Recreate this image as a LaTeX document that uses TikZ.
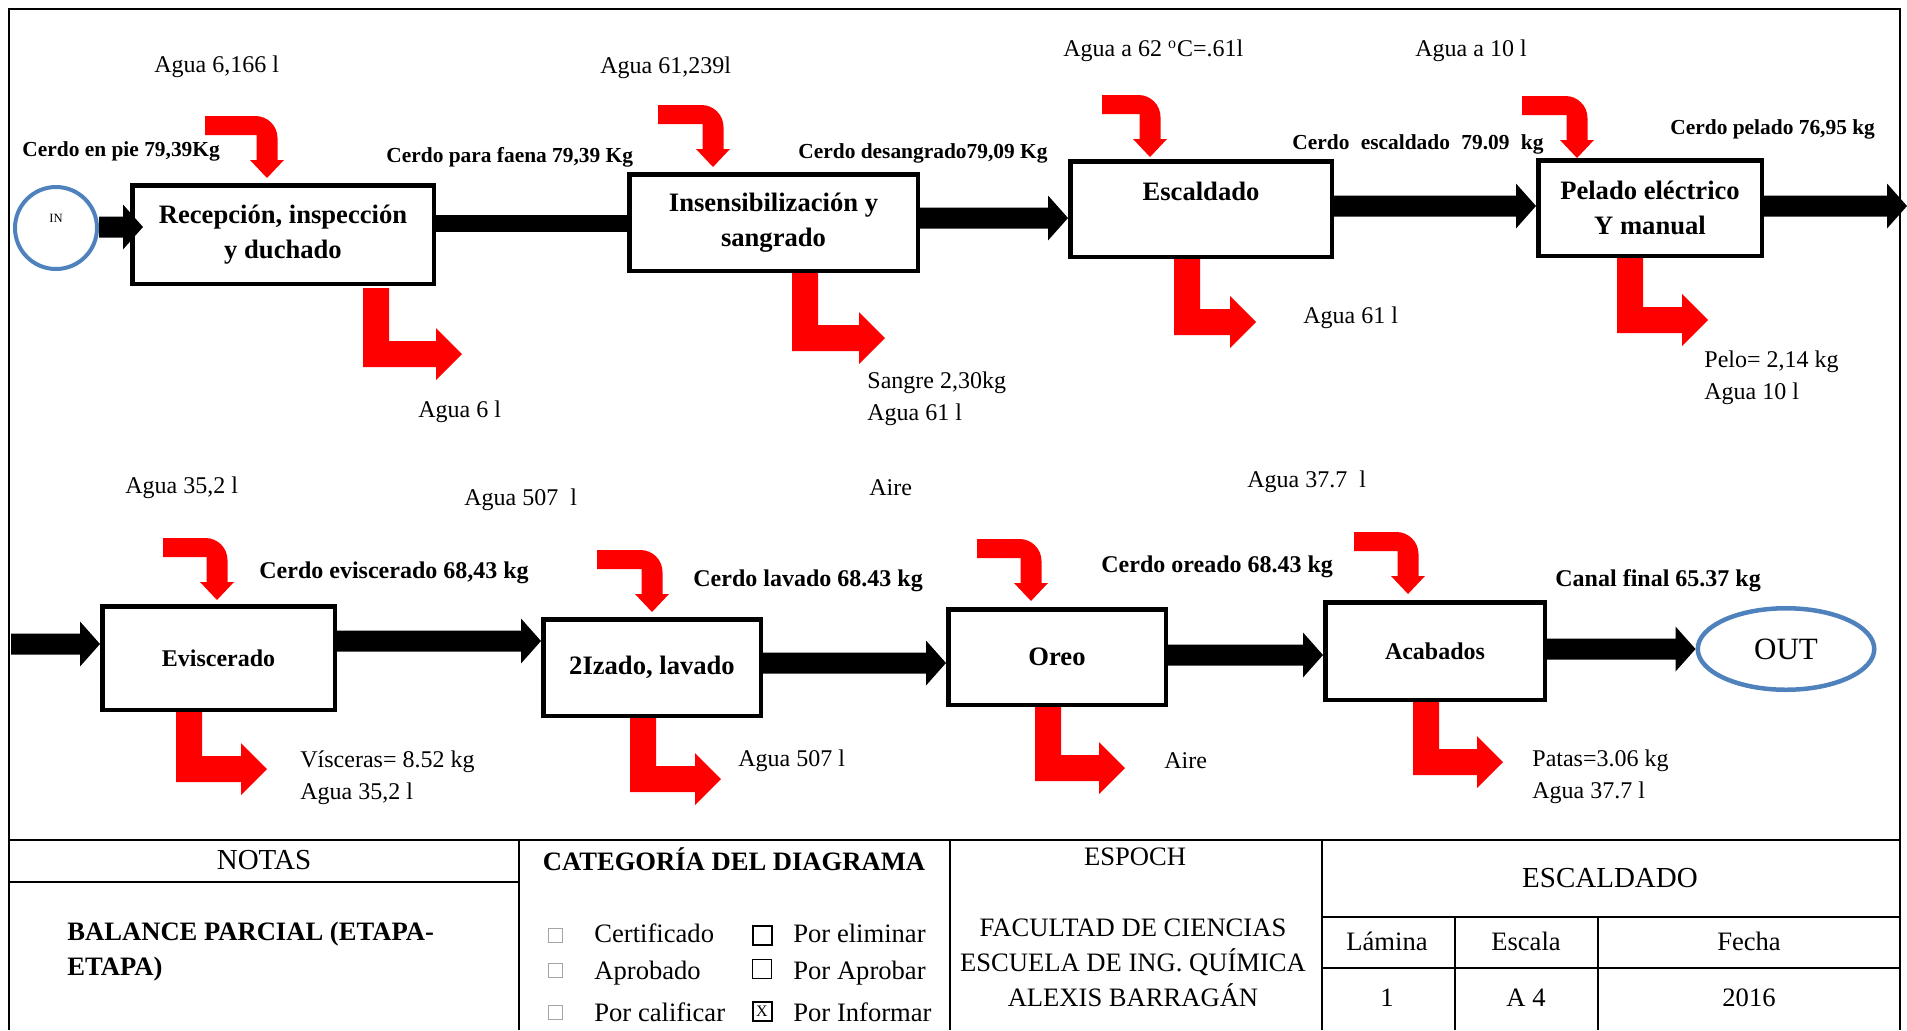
\documentclass[tikz,border=0pt]{standalone}
\usepackage{fontspec}
\setmainfont{Liberation Serif}
\usetikzlibrary{calc,shapes.geometric}
\pgfdeclarelayer{back}
\pgfsetlayers{back,main}
\definecolor{flowred}{RGB}{255,0,0}
\definecolor{ringblue}{RGB}{79,129,189}
\definecolor{tickgray}{RGB}{165,165,165}

% fat black flow arrow: shaft from #1 to the tip #2 (both on one level)
\newcommand\blockarrow[2]{%
  \fill ($(#1)+(0,-10.5)$) -- ($(#2)+(-20,-10.5)$) -- ($(#2)+(-20,-22.5)$)
    -- (#2) -- ($(#2)+(-20,22.5)$) -- ($(#2)+(-20,10.5)$)
    -- ($(#1)+(0,10.5)$) -- cycle;}

\begin{document}
\begin{tikzpicture}[x=0.5pt, y=-0.5pt,
  proc/.style={draw, line width=2.25pt, fill=white, align=center, inner sep=0pt,
    font=\bfseries\fontsize{13.3}{17.5}\selectfont},
  lbl/.style={anchor=west, inner sep=0pt, align=left, font=\fontsize{12}{16}\selectfont},
  slbl/.style={anchor=west, inner sep=0pt, font=\bfseries\fontsize{10.7}{13}\selectfont},
  blbl/.style={anchor=west, inner sep=0pt, font=\bfseries\fontsize{12}{14}\selectfont},
  cell/.style={inner sep=0pt, align=center, font=\fontsize{13.3}{17.5}\selectfont},
  opt/.style={anchor=west, inner sep=0pt, font=\fontsize{13.3}{16}\selectfont},
  rule/.style={line width=1.3pt},
  tickoff/.style={draw=tickgray, line width=0.5pt, minimum size=7pt, inner sep=0pt},
  tickon/.style={draw, line width=1pt, minimum size=9.5pt, inner sep=0pt,
    font=\fontsize{8}{8}\selectfont},
  pics/feed/.style={code={
    \fill[flowred] (0,0) -- (-17,-18) -- (-10.5,-18) -- (-10.5,-43) -- (#1,-43)
      -- (#1,-62) -- (-11.5,-62) .. controls (0.6,-62) and (10.5,-52.1) .. (10.5,-40)
      -- (10.5,-18) -- (17,-18) -- cycle;}},
  pics/drain/.style={code={
    \fill[flowred] (#1,-66) -- ({#1+26},-66) -- ({#1+26},-13) -- (-26,-13)
      -- (-26,-26) -- (0,0) -- (-26,26) -- (-26,13) -- (#1,13) -- cycle;}}
]
\useasboundingbox (0,0) rectangle (1907,1030);

% sheet frame and title block
\draw[rule] (9,1030) -- (9,9) -- (1900,9) -- (1900,1030);
\draw[rule] (9,840) -- (1900,840);
\draw[rule] (9,882) -- (519,882);
\draw[rule] (519,840) -- (519,1030);
\draw[rule] (950,840) -- (950,1030);
\draw[rule] (1322,840) -- (1322,1030);
\draw[rule] (1322,917) -- (1900,917);
\draw[rule] (1322,968) -- (1900,968);
\draw[rule] (1455,917) -- (1455,1030);
\draw[rule] (1598,917) -- (1598,1030);

% process steps
\node[proc, minimum width=150.75pt, minimum height=49.25pt] (b1) at (283,234.5) {Recepción, inspección\\y duchado};
\node[proc, minimum width=144.25pt, minimum height=48.25pt] (b2) at (773.5,222.5) {Insensibilización y\\sangrado};
\node[proc, minimum width=130.75pt, minimum height=47.75pt] (b3) at (1201,209) {Escaldado\\\mbox{}};
\node[proc, minimum width=111.75pt, minimum height=47.75pt] (b4) at (1650,208) {Pelado eléctrico\\Y manual};
\node[proc, font=\bfseries\fontsize{12}{16}\selectfont, minimum width=116.25pt, minimum height=51.75pt] (b5) at (218.5,658) {Eviscerado};
\node[proc, minimum width=108.75pt, minimum height=48.25pt] (b6) at (652,667.5) {2Izado, lavado};
\node[proc, minimum width=108.75pt, minimum height=47.75pt] (b7) at (1057,657) {Oreo};
\node[proc, font=\bfseries\fontsize{12}{16}\selectfont, minimum width=109.75pt, minimum height=48.75pt] (b8) at (1435,651) {Acabados};

\node[circle, draw=ringblue, line width=2pt, minimum size=41pt, inner sep=0pt, text depth=10pt,
  font=\fontsize{6.3}{7}\selectfont] (in) at (56,228) {IN};
\node[ellipse, draw=ringblue, line width=2.25pt, minimum width=88.25pt, minimum height=40.75pt,
  inner sep=0pt, font=\fontsize{15.5}{18}\selectfont] (out) at (1786,649) {OUT};

% levels of the main flow
\coordinate (v0) at (0,227);
\coordinate (v1) at (0,223);
\coordinate (v2) at (0,218);
\coordinate (v3) at (0,206);
\coordinate (v5) at (0,641);
\coordinate (v6) at (0,663);
\coordinate (v7) at (0,655);
\coordinate (v8) at (0,649);
\coordinate (entry) at (11,644);
\coordinate (exit) at (1907,206);
\coordinate (t0) at ($(b1.west |- v0)+(13,0)$);

% main product flow
\blockarrow{in.east |- v0}{t0}
\draw[line width=8.5pt] (b1.east |- v1) -- (b2.west |- v1);
\blockarrow{b2.east |- v2}{b3.west |- v2}
\blockarrow{b3.east |- v3}{b4.west |- v3}
\blockarrow{b4.east |- v3}{exit}
\blockarrow{entry}{b5.west |- entry}
\blockarrow{b5.east |- v5}{b6.west |- v5}
\blockarrow{b6.east |- v6}{b7.west |- v6}
\blockarrow{b7.east |- v7}{b8.west |- v7}
\blockarrow{b8.east |- v8}{out.west |- v8}

% inputs entering each step
\pic at ($(b1.north)+(-16,-5)$) {feed=-62};
\pic at ($(b2.north)+(-60.5,-5)$) {feed=-55};
\pic at ($(b3.north)+(-51,-2)$) {feed=-48};
\pic at ($(b4.north)+(-73,0)$) {feed=-55};
\pic at ($(b5.north)+(-1.5,-4)$) {feed=-54};
\pic at ($(b6.north)+(0,-5)$) {feed=-55};
\pic at ($(b7.north)+(-26,-6)$) {feed=-54};
\pic at ($(b8.north)+(-27,-6)$) {feed=-54};

% outputs leaving each step
\begin{pgfonlayer}{back}
\pic at ($(b1.south)+(179,68)$) {drain=-99};
\pic at ($(b2.south)+(111.5,65)$) {drain=-93};
\pic at ($(b3.south)+(55,63)$) {drain=-82};
\pic at ($(b4.south)+(58,62)$) {drain=-91};
\pic at ($(b5.south)+(48.5,57)$) {drain=-91};
\pic at ($(b6.south)+(69,61)$) {drain=-91};
\pic at ($(b7.south)+(68,61)$) {drain=-90};
\pic at ($(b8.south)+(68,60)$) {drain=-90};
\end{pgfonlayer}

% stream labels, upper line
\node[lbl] (w1) at (154,67) {Agua 6,166 l};
\node[lbl] (w2) at (600,68) {Agua 61,239l};
\node[lbl] (w3) at (1063,51) {Agua a 62 \textsuperscript{o}C=.61l};
\node[lbl] (w4) at (1415,51) {Agua a 10 l};
\node[slbl] (m0) at (22,151) {Cerdo en pie 79,39Kg};
\node[slbl] (m1) at (386,157) {Cerdo para faena 79,39 Kg};
\node[slbl] (m2) at (798,153) {Cerdo desangrado79,09 Kg};
\node[slbl] (m3) at (1292,144) {Cerdo\hspace{5.7pt}escaldado\hspace{5.7pt}79.09\hspace{5.7pt}kg};
\node[slbl] (m4) at (1670,129) {Cerdo pelado 76,95 kg};
\node[lbl] (o1) at (418,412) {Agua 6 l};
\node[lbl] (o2) at (867,399) {Sangre 2,30kg\\Agua 61 l};
\node[lbl] (o3) at (1303,318) {Agua 61 l};
\node[lbl] (o4) at (1704,377.5) {Pelo= 2,14 kg\\Agua 10 l};

% stream labels, lower line
\node[lbl] (w5) at (125,488) {Agua 35,2 l};
\node[lbl] (w6) at (464,500) {Agua 507\ \ l};
\node[lbl] (w7) at (869,488) {Aire};
\node[lbl] (w8) at (1247,482) {Agua 37.7\ \ l};
\node[blbl] (m5) at (259,573) {Cerdo eviscerado 68,43 kg};
\node[blbl] (m6) at (693,581) {Cerdo lavado 68.43 kg};
\node[blbl] (m7) at (1101,567) {Cerdo oreado 68.43 kg};
\node[blbl] (m8) at (1555,581) {Canal final 65.37 kg};
\node[lbl] (o5) at (300,778) {Vísceras= 8.52 kg\\Agua 35,2 l};
\node[lbl] (o6) at (738,761) {Agua 507 l};
\node[lbl] (o7) at (1164,761) {Aire};
\node[lbl] (o8) at (1532,777) {Patas=3.06 kg\\Agua 37.7 l};

% title block contents
\node[cell, font=\fontsize{14.5}{17}\selectfont] (notas) at (264,860) {NOTAS};
\node[anchor=west, inner sep=0pt, align=left, font=\bfseries\fontsize{13.3}{17.5}\selectfont] (nota) at (67,951.5) {BALANCE PARCIAL (ETAPA-\\ETAPA)};
\node[cell, font=\bfseries\fontsize{13.3}{16}\selectfont] (cat) at (734,859) {CATEGORÍA DEL DIAGRAMA};
\node[tickoff] (k1) at (555,935) {};
\node[tickoff] (k2) at (555,970) {};
\node[tickoff] (k3) at (555,1012) {};
\node[tickon] (k4) at (762,935) {};
\node[tickon, line width=0.7pt] (k5) at (762,969) {};
\node[tickon] (k6) at (762,1011) {X};
\node[opt] (c1) at (594,933) {Certificado};
\node[opt] (c2) at (594,973) {Aprobado};
\node[opt] (c3) at (594,1012) {Por calificar};
\node[opt] (c4) at (793,933) {Por eliminar};
\node[opt] (c5) at (793,973) {Por Aprobar};
\node[opt] (c6) at (793,1012) {Por Informar};
\node[cell] (esp) at (1135,857) {ESPOCH};
\node[cell] (fac) at (1133,963) {FACULTAD DE CIENCIAS\\ESCUELA DE ING. QUÍMICA\\ALEXIS BARRAGÁN};
\node[cell, font=\fontsize{14.5}{17}\selectfont] (tit) at (1610,878) {ESCALDADO};
\node[cell] (h1) at (1387,941) {Lámina};
\node[cell] (h2) at (1526,941) {Escala};
\node[cell] (h3) at (1749,941) {Fecha};
\node[cell] (d1) at (1387,998) {1};
\node[cell] (d2) at (1526,998) {A 4};
\node[cell] (d3) at (1749,998) {2016};
\end{tikzpicture}
\end{document}
